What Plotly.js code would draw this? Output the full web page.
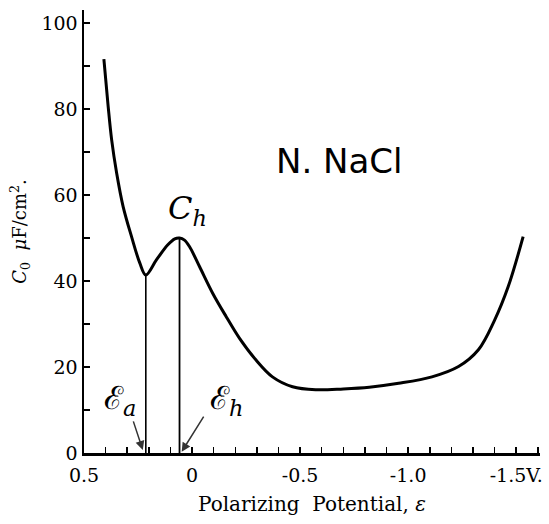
<!DOCTYPE html>
<html>
<head>
<meta charset="utf-8">
<script src="https://cdn.plot.ly/plotly-3.0.1.min.js"></script>
<style>html,body{margin:0;padding:0;background:#fff;}#chart{width:549px;height:524px;}</style>
</head>
<body>
<div id="chart"></div>
<script>
// Capacity curve C0 vs polarizing potential (N. NaCl)
const potential = [0.408, 0.388, 0.372, 0.349, 0.319, 0.280, 0.242, 0.214, 0.165, 0.112, 0.080, 0.058, 0.035, 0.012, -0.035, -0.096, -0.158, -0.219, -0.296, -0.372, -0.465, -0.572, -0.70, -0.82, -0.956, -1.11, -1.233, -1.325, -1.40, -1.463, -1.532];
const capacity  = [91.6, 80.5, 72.8, 65.1, 57.3, 50.3, 44.2, 41.4, 44.9, 48.4, 49.8, 50.0, 49.5, 48.0, 43.3, 37.1, 31.7, 26.7, 21.6, 17.7, 15.4, 14.7, 14.9, 15.3, 16.2, 17.7, 20.1, 24.0, 30.9, 38.7, 50.3];
// marked potentials
const markX = [0.214, 0.058];
const markY = [41.4, 50];
const markLabels = ['ℰ<sub><i>a</i></sub>', 'ℰ<sub><i>h</i></sub>'];
const xTickVals = [0.5, 0, -0.5, -1.0, -1.5];
const xTickText = ['0.5', '0', '-0.5', '-1.0', '-1.5V.'];
const yTickVals = [0, 20, 40, 60, 80, 100];

const traces = [
  {x: potential, y: capacity, mode: 'lines', line: {color: '#000', width: 3, shape: 'spline', smoothing: 1}, hoverinfo: 'skip'},
  {x: [markX[0], markX[0]], y: [0, markY[0]], mode: 'lines', line: {color: '#000', width: 1.6}, hoverinfo: 'skip'},
  {x: [markX[1], markX[1]], y: [0, markY[1]], mode: 'lines', line: {color: '#000', width: 1.8}, hoverinfo: 'skip'}
];

const serif = 'DejaVu Serif';
const layout = {
  width: 549, height: 524,
  margin: {l: 84, r: 9, t: 10, b: 71},
  paper_bgcolor: '#fff', plot_bgcolor: '#fff',
  showlegend: false,
  font: {family: serif, color: '#000'},
  xaxis: {
    range: [0.5, -1.61], showgrid: false, zeroline: false,
    showline: true, linecolor: '#000', linewidth: 2.5,
    tickmode: 'array', tickvals: xTickVals, ticktext: xTickText,
    ticks: 'inside', ticklen: 6, tickwidth: 1.5, tickcolor: '#000',
    ticklabelstandoff: 4,
    minor: {dtick: 0.1, tick0: 0, ticks: 'inside', ticklen: 6, tickwidth: 1.5, tickcolor: '#000', showgrid: false},
    tickfont: {family: serif, size: 19, color: '#000'},
    title: {text: 'Polarizing  Potential, <i>ε</i>', font: {family: serif, size: 20, color: '#000'}, standoff: 12}
  },
  yaxis: {
    range: [0, 103], showgrid: false, zeroline: false,
    showline: true, linecolor: '#000', linewidth: 2.5,
    tickmode: 'array', tickvals: yTickVals,
    ticks: 'inside', ticklen: 6, tickwidth: 1.5, tickcolor: '#000',
    minor: {dtick: 10, tick0: 0, ticks: 'inside', ticklen: 6, tickwidth: 1.5, tickcolor: '#000', showgrid: false},
    tickfont: {family: serif, size: 19, color: '#000'},
    title: {text: '<i>C</i><sub>0</sub>  <i>μ</i>F/cm<sup>2</sup>.', font: {family: serif, size: 18, color: '#000'}, standoff: 10}
  },
  annotations: [
    {x: 0.228, y: 0.7, ax: 0.274, ay: 7.7, xref: 'x', yref: 'y', axref: 'x', ayref: 'y', text: '', showarrow: true, arrowhead: 2, arrowsize: 1.2, arrowwidth: 1.5, arrowcolor: '#333'},
    {x: 0.048, y: 0.3, ax: -0.058, ay: 8.8, xref: 'x', yref: 'y', axref: 'x', ayref: 'y', text: '', showarrow: true, arrowhead: 2, arrowsize: 1.2, arrowwidth: 1.5, arrowcolor: '#333'},
    {x: 0.334, y: 12.3, xref: 'x', yref: 'y', text: markLabels[0], showarrow: false, font: {family: serif, size: 32, color: '#000'}},
    {x: -0.159, y: 12.3, xref: 'x', yref: 'y', text: markLabels[1], showarrow: false, font: {family: serif, size: 32, color: '#000'}},
    {x: 0.021, y: 56.5, xref: 'x', yref: 'y', text: '<i>C</i><sub><i>h</i></sub>', showarrow: false, font: {family: serif, size: 32, color: '#000'}},
    {x: -0.68, y: 68, xref: 'x', yref: 'y', text: 'N. NaCl', showarrow: false, font: {family: 'DejaVu Sans', size: 34, color: '#000'}}
  ]
};
Plotly.newPlot('chart', traces, layout, {displayModeBar: false, staticPlot: true});
</script>
</body>
</html>
